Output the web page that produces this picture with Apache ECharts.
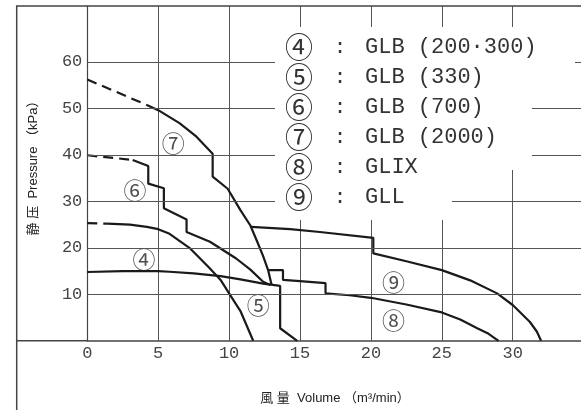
<!DOCTYPE html>
<html><head><meta charset="utf-8">
<script src="https://cdn.jsdelivr.net/npm/echarts@6/dist/echarts.min.js"></script>
<style>html,body{margin:0;padding:0;background:#fff}#c{width:581px;height:410px}</style>
</head><body><div id="c"></div>
<script>
// ---- data ----
const xTickValues = [0, 5, 10, 15, 20, 25, 30];
const yTickValues = [10, 20, 30, 40, 50, 60];

const c4Solid = [[0,14.8],[2.5,15.0],[5,15.0],[5.8,14.85],[7.5,14.5],[9.4,13.9],[10.8,13.2],[12.4,12.3],[13.6,11.8],[13.6,2.7],[14.8,0]];
const c5Dash  = [[0,25.3],[1.4,25.2]];
const c5Solid = [[1.4,25.2],[3,25.0],[4.2,24.5],[5,24.0],[5.8,23.0],[7.2,20.0],[8.6,15.7],[9.4,13.1],[10,10.2],[10.8,6.4],[11.7,0]];
const c6Dash  = [[0,39.9],[3.2,38.9]];
const c6Solid = [[3.2,38.9],[4.3,37.6],[4.3,33.8],[5.4,32.8],[5.4,28.5],[7.0,26.1],[7.0,23.4],[8.65,21.3],[10.5,17.7],[11.5,15.3],[12.4,12.7],[12.9,12.0]];
const c7Dash  = [[0,56.2],[4.2,50.7]];
const c7Solid = [[4.2,50.7],[5,49.6],[6.5,46.8],[7.7,43.9],[8.84,40.2],[8.84,35.3],[9.9,32.7],[10.8,28.1],[11.5,24.8],[12.0,21.2],[12.4,18.2],[12.75,15.2],[13.0,12.0]];
const c8Solid = [[12.75,15.2],[13.8,15.2],[13.8,13.1],[15,12.85],[16.8,12.4],[16.8,10.2],[18.5,9.8],[20,9.25],[22.5,7.8],[25,6.1],[26.3,4.6],[27.5,2.7],[28.3,1.5],[29.0,0]];
const c9Solid = [[11.55,24.5],[14.3,24.0],[16.4,23.4],[20.17,22.15],[20.17,18.8],[22.5,17.1],[25,15.2],[27,13.0],[28.9,10.2],[30,7.7],[31.2,4.1],[31.7,2.0],[32.0,0]];

const curveTags = [[4.0,17.6,'④'],[12.06,7.7,'⑤'],[3.36,32.4,'⑥'],[6.07,42.4,'⑦'],[21.6,4.45,'⑧'],[21.6,12.6,'⑨']];

const legendIds   = ['④','⑤','⑥','⑦','⑧','⑨'];
const legendNames = ['GLB (200·300)','GLB (330)','GLB (700)','GLB (2000)','GLIX','GLL'];

const yTitle = '静 压  Pressure （kPa）';
const xTitle = '風 量  Volume （m³/min）';

// ---- chart ----
const chart = echarts.init(document.getElementById('c'));
const LINE = '#1a1a1a', GRID = '#555';
function curve(data, dashed){
  return {type:'line', data:data, symbol:'none', silent:true, z:3,
    lineStyle:{color:LINE, width:2.2, type: dashed ? [10,6] : 'solid'}};
}
const monoFont = '"Liberation Mono","DejaVu Sans Mono", monospace';
const GL = 87.3, GT = 6, GW = 496.3, GH = 334.8;
const graphics = [
  {type:'rect', shape:{x:16.7,y:GT,width:700,height:600}, style:{fill:'none',stroke:'#444',lineWidth:1.5}, z:1, silent:true},
  {type:'line', shape:{x1:16.7,y1:GT+GH,x2:GL,y2:GT+GH}, style:{stroke:'#444',lineWidth:1.5}, z:1, silent:true},
  {type:'rect', shape:{x:275,y:27,width:300,height:58}, style:{fill:'#fff'}, z:10, silent:true},
  {type:'rect', shape:{x:275,y:85,width:257,height:85}, style:{fill:'#fff'}, z:10, silent:true},
  {type:'rect', shape:{x:275,y:170,width:177,height:50}, style:{fill:'#fff'}, z:10, silent:true},
  {type:'text', x:33, y:165, rotation:Math.PI/2, z:11,
    style:{text:yTitle, font:'13px "Liberation Sans","Noto Sans CJK SC",sans-serif', fill:'#222', textAlign:'center', textVerticalAlign:'middle'}},
  {type:'text', x:335, y:398, z:11,
    style:{text:xTitle, font:'13px "Liberation Sans","Noto Sans CJK SC",sans-serif', fill:'#222', textAlign:'center', textVerticalAlign:'middle'}}
];
legendIds.forEach((id,i)=>{
  const y = 47 + 30*i;
  graphics.push({type:'text', x:299, y:y, z:11, style:{text:id, font:'28px "Noto Sans CJK JP",sans-serif', fill:'#333', textAlign:'center', textVerticalAlign:'middle'}});
  graphics.push({type:'text', x:340, y:y, z:11, style:{text:':', font:'21px '+monoFont, fill:'#333', textAlign:'center', textVerticalAlign:'middle'}});
  graphics.push({type:'text', x:365, y:y, z:11, style:{text:legendNames[i], font:'22px '+monoFont, fill:'#333', textAlign:'left', textVerticalAlign:'middle'}});
});

chart.setOption({
  animation:false,
  grid:{left:GL, top:GT, width:GW, height:GH, containLabel:false, outerBoundsMode:'none'},
  xAxis:{type:'value', min:0, max:35, interval:5,
    axisLine:{show:true, lineStyle:{color:'#444', width:1.5}},
    axisTick:{show:false},
    axisLabel:{margin:4, color:'#444', fontSize:17, fontFamily:monoFont,
      formatter:v => xTickValues.indexOf(v) >= 0 ? String(v) : ''},
    splitLine:{show:true, lineStyle:{color:GRID, width:1}}},
  yAxis:{type:'value', min:0, max:72, interval:10,
    axisLine:{show:true, lineStyle:{color:'#444', width:1.2}},
    axisTick:{show:false},
    axisLabel:{margin:5, color:'#444', fontSize:17, fontFamily:monoFont,
      formatter:v => yTickValues.indexOf(v) >= 0 ? String(v) : ''},
    splitLine:{show:false}},
  graphic:graphics,
  series:[
    {type:'line', data:[], silent:true, z:1,
      markLine:{silent:true, symbol:['none','none'], label:{show:false}, animation:false,
        lineStyle:{color:GRID, width:1, type:'solid'},
        data: yTickValues.map(v => [{coord:[0,v]},{coord:[35,v]}])}},
    curve(c4Solid,false),
    curve(c5Dash,true), curve(c5Solid,false),
    curve(c6Dash,true), curve(c6Solid,false),
    curve(c7Dash,true), curve(c7Solid,false),
    curve(c8Solid,false),
    curve(c9Solid,false),
    {type:'scatter', data:curveTags, symbolSize:1, itemStyle:{color:'rgba(0,0,0,0)'}, silent:true, z:4,
      label:{show:true, position:'inside', formatter:p => p.data[2], fontSize:23, color:'#222',
        fontFamily:'"Noto Sans CJK JP",sans-serif'}}
  ]
});
</script></body></html>
